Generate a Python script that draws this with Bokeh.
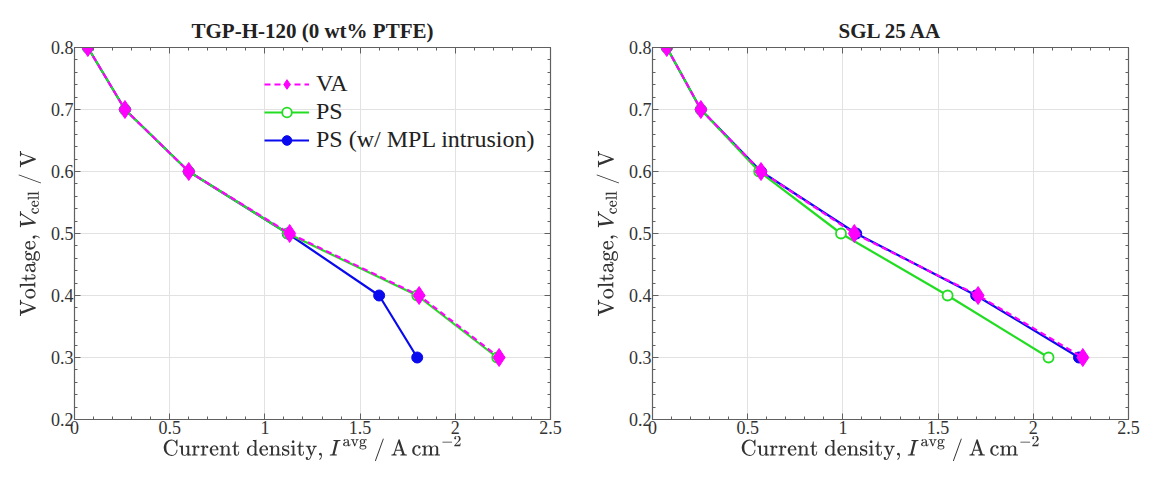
from bokeh.plotting import figure
from bokeh.layouts import row
from bokeh.models import LinearAxis, Range1d, FixedTicker, TeX, CustomJSTickFormatter
from bokeh.embed import file_html
from bokeh.resources import INLINE

# ---- data ----
voltage = [0.8, 0.7, 0.6, 0.5, 0.4, 0.3]

tgp_va = [0.07, 0.265, 0.60, 1.13, 1.81, 2.23]
tgp_ps = [0.07, 0.265, 0.60, 1.12, 1.80, 2.22]
tgp_mpl = [0.07, 0.265, 0.60, 1.12, 1.60, 1.80]

sgl_va = [0.075, 0.254, 0.57, 1.06, 1.71, 2.26]
sgl_ps = [0.075, 0.254, 0.56, 0.99, 1.55, 2.08]
sgl_mpl = [0.075, 0.254, 0.57, 1.07, 1.70, 2.24]

x_ticks = [0, 0.5, 1, 1.5, 2, 2.5]
x_tick_labels = ["0", "0.5", "1", "1.5", "2", "2.5"]
x_minor = [i / 10 for i in range(26)]
y_ticks = [0.2, 0.3, 0.4, 0.5, 0.6, 0.7, 0.8]
y_tick_labels = ["0.2", "0.3", "0.4", "0.5", "0.6", "0.7", "0.8"]
y_minor = [0.2 + i * 0.02 for i in range(31)]

titles = ["TGP-H-120 (0 wt% PTFE)", "SGL 25 AA"]
series_names = ["VA", "PS", "PS (w/ MPL intrusion)"]

FONT = "Liberation Serif"
C_VA = "#ff00ff"
C_PS = "#22dd22"
C_MPL = "#0a0aee"
AXC = "#606060"


def style_axis(ax, ticks, minor, labels, show_labels=True, standoff=0):
    ax.ticker = FixedTicker(ticks=ticks, minor_ticks=minor)
    ax.axis_line_color = AXC
    ax.axis_line_width = 1.2
    ax.major_tick_line_color = AXC
    ax.minor_tick_line_color = AXC
    ax.major_tick_in = 6
    ax.major_tick_out = 0
    ax.minor_tick_in = 3
    ax.minor_tick_out = 0
    if show_labels:
        ax.major_label_overrides = {t: l for t, l in zip(ticks, labels)}
        ax.major_label_text_font = FONT
        ax.major_label_text_font_size = "18px"
        ax.major_label_text_color = "#333333"
        ax.major_label_standoff = 1
    else:
        ax.formatter = CustomJSTickFormatter(code="return ''")
        ax.major_label_standoff = standoff


def make_plot(title, va, ps, mpl, with_legend, width, bl, br):
    p = figure(width=width, height=464,
               x_range=Range1d(0, 2.5), y_range=Range1d(0.2, 0.8),
               output_backend="svg", toolbar_location=None,
               min_border_left=bl, min_border_right=br,
               min_border_top=47, min_border_bottom=38,
               title=title)
    p.title.align = "center"
    p.title.text_font = FONT
    p.title.text_font_style = "bold"
    p.title.text_font_size = "21px"
    p.title.text_color = "#222222"
    p.outline_line_color = AXC

    style_axis(p.xaxis[0], x_ticks, x_minor, x_tick_labels)
    style_axis(p.yaxis[0], y_ticks, y_minor, y_tick_labels)
    p.xaxis[0].axis_label = TeX(r"\text{Current density, }I^{\text{avg}}\text{ / A}\,\text{cm}^{-2}")
    p.yaxis[0].axis_label = TeX(r"\text{Voltage, }V_{\text{cell}}\text{ / V}")
    for ax in (p.xaxis[0], p.yaxis[0]):
        ax.axis_label_text_font_size = "19px"
        ax.axis_label_text_color = "#333333"
    p.xaxis[0].axis_label_standoff = -1
    p.yaxis[0].axis_label_standoff = 7

    top = LinearAxis()
    style_axis(top, x_ticks, x_minor, x_tick_labels, show_labels=False, standoff=8)
    p.add_layout(top, "above")
    right = LinearAxis()
    style_axis(right, y_ticks, y_minor, y_tick_labels, show_labels=False)
    p.add_layout(right, "right")

    p.xgrid.ticker = FixedTicker(ticks=x_ticks)
    p.ygrid.ticker = FixedTicker(ticks=y_ticks)
    p.grid.grid_line_color = "#e2e2e2"
    p.grid.grid_line_width = 1

    kw_mpl = dict(legend_label=series_names[2]) if with_legend else {}
    kw_ps = dict(legend_label=series_names[1]) if with_legend else {}
    kw_va = dict(legend_label=series_names[0]) if with_legend else {}

    p.line(mpl, voltage, line_color=C_MPL, line_width=2.2, **kw_mpl)
    p.scatter(mpl, voltage, marker="circle", size=11, fill_color=C_MPL,
              line_color=C_MPL, **kw_mpl)

    p.line(ps, voltage, line_color=C_PS, line_width=2.2, **kw_ps)
    p.scatter(ps, voltage, marker="circle", size=10, fill_color="white",
              line_color=C_PS, line_width=1.8, **kw_ps)

    p.line(va, voltage, line_color=C_VA, line_width=2.2, line_dash="6 4", **kw_va)
    p.scatter(va, voltage, marker="diamond", size=18, fill_color=C_VA,
              line_color=C_VA, **kw_va)

    if with_legend:
        lg = p.legend[0]
        lg.items = lg.items[::-1]
        lg.location = (190, 266)
        lg.background_fill_alpha = 0
        lg.border_line_alpha = 0
        lg.label_text_font = FONT
        lg.label_text_font_size = "24px"
        lg.label_text_color = "#222222"
        lg.glyph_width = 45
        lg.glyph_height = 24
        lg.label_height = 24
        lg.spacing = 1
        lg.padding = 0
        lg.margin = 0
        lg.label_standoff = 7
    return p


p1 = make_plot(titles[0], tgp_va, tgp_ps, tgp_mpl, True, 576, 74, 26)
p2 = make_plot(titles[1], sgl_va, sgl_ps, sgl_mpl, False, 568, 76, 16)

layout = row(p1, p2, spacing=0)
open("out.html", "w").write(file_html(layout, INLINE))
